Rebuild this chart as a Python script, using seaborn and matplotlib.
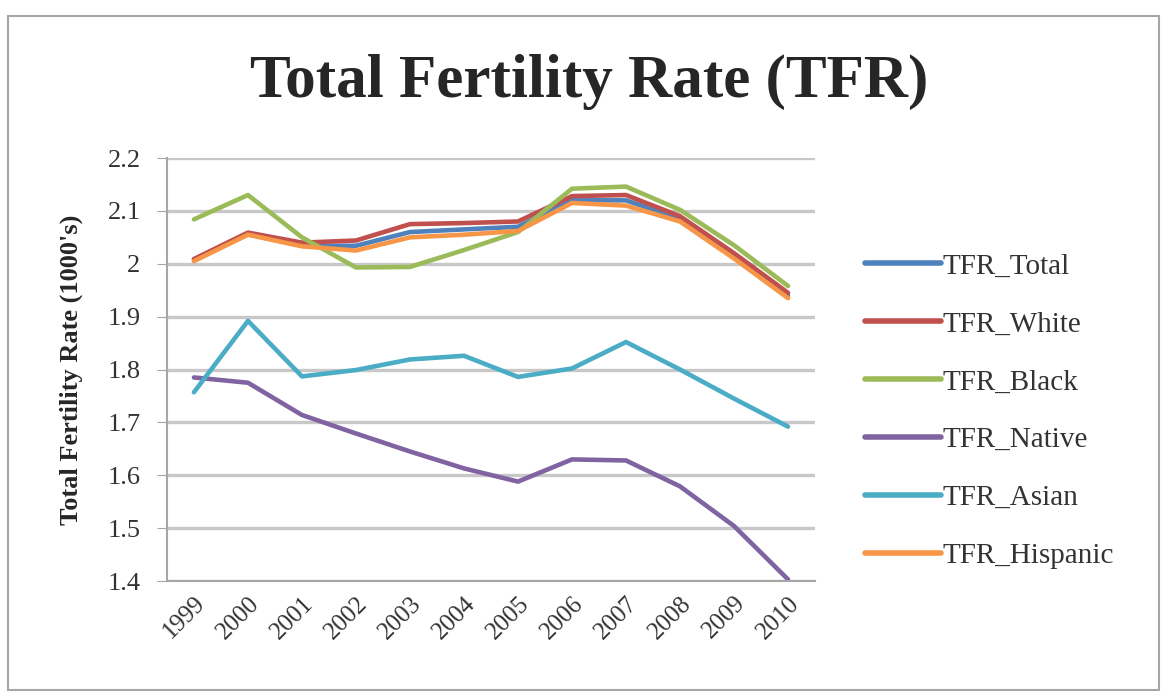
import pandas as pd
import matplotlib.pyplot as plt
import seaborn as sns
from matplotlib.patches import Rectangle

# Values
years = [1999, 2000, 2001, 2002, 2003, 2004, 2005, 2006, 2007, 2008, 2009, 2010]
tfr_total = [2.008, 2.056, 2.034, 2.034, 2.060, 2.065, 2.070, 2.120, 2.120, 2.085, 2.015, 1.940]
tfr_white = [2.009, 2.059, 2.040, 2.044, 2.075, 2.077, 2.080, 2.128, 2.130, 2.090, 2.020, 1.945]
tfr_black = [2.084, 2.130, 2.050, 1.993, 1.994, 2.026, 2.060, 2.142, 2.146, 2.102, 2.035, 1.958]
tfr_native = [1.785, 1.775, 1.714, 1.679, 1.645, 1.613, 1.588, 1.630, 1.628, 1.579, 1.504, 1.403]
tfr_asian = [1.757, 1.892, 1.787, 1.799, 1.819, 1.826, 1.786, 1.802, 1.852, 1.800, 1.745, 1.692]
tfr_hispanic = [2.005, 2.055, 2.033, 2.025, 2.050, 2.055, 2.062, 2.115, 2.110, 2.080, 2.010, 1.935]

series = {
    "TFR_Total": tfr_total,
    "TFR_White": tfr_white,
    "TFR_Black": tfr_black,
    "TFR_Native": tfr_native,
    "TFR_Asian": tfr_asian,
    "TFR_Hispanic": tfr_hispanic,
}
colors = ["#4F81BD", "#C0504D", "#9BBB59", "#8064A2", "#4BACC6", "#F79646"]
y_ticks = [1.4, 1.5, 1.6, 1.7, 1.8, 1.9, 2.0, 2.1, 2.2]
y_tick_labels = ["1.4", "1.5", "1.6", "1.7", "1.8", "1.9", "2", "2.1", "2.2"]

rows = []
for name, vals in series.items():
    for yr, v in zip(years, vals):
        rows.append({"Year": yr, "Series": name, "TFR": v})
df = pd.DataFrame(rows)

sns.set_style("white")
plt.rcParams["font.family"] = ["Liberation Serif", "DejaVu Serif"]
plt.rcParams["text.color"] = "#262626"

fig = plt.figure(figsize=(11.65, 6.98), dpi=100)
ax = fig.add_axes([0.1433, 0.1676, 0.5563, 0.606])

# chart frame
fig.patches.append(Rectangle((0.007, 0.012), 0.988, 0.965, transform=fig.transFigure,
                             fill=False, edgecolor="#a6a6a6", linewidth=1.5))

sns.lineplot(data=df, x="Year", y="TFR", hue="Series", palette=colors,
             linewidth=3.3, ax=ax, legend=False)

ax.set_xlim(years[0] - 0.5, years[-1] + 0.5)
ax.set_ylim(1.4, 2.2)
ax.set_yticks(y_ticks)
ax.set_yticklabels(y_tick_labels, fontsize=19, color="#333333")
ax.set_xticks(years)
ax.set_xticklabels([str(y) for y in years], rotation=45, ha="right",
                   rotation_mode="anchor", fontsize=18, color="#333333")
ax.set_xticks([y - 0.5 for y in years] + [years[-1] + 0.5], minor=True)
ax.tick_params(axis="x", which="major", length=0, pad=8)
ax.tick_params(axis="x", which="minor", length=7, color="#a6a6a6", direction="out")
ax.tick_params(axis="y", length=7, color="#a6a6a6", direction="out", left=True, pad=12)

ax.grid(axis="y", color="#c8c8c8", linewidth=2.4)
ax.set_axisbelow(True)
for side in ["top", "right"]:
    ax.spines[side].set_visible(False)
for side in ["left", "bottom"]:
    ax.spines[side].set_color("#a6a6a6")
    ax.spines[side].set_linewidth(1.5)

ax.set_xlabel("")
ax.set_ylabel("Total Fertility Rate (1000's)", fontsize=19, fontweight="bold")
ax.yaxis.set_label_coords(-0.13, 0.5)
fig.text(0.506, 0.882, "Total Fertility Rate (TFR)", ha="center", va="center",
         fontsize=44, fontweight="bold")

handles = [plt.Line2D([], [], color=c, linewidth=4) for c in colors]
fig.legend(handles, list(series.keys()), loc="center left",
           bbox_to_anchor=(0.72, 0.411), frameon=False, fontsize=21,
           handlelength=2.6, handletextpad=0.05, labelspacing=1.08,
           labelcolor="#333333")

plt.savefig("out.png", dpi=100)
